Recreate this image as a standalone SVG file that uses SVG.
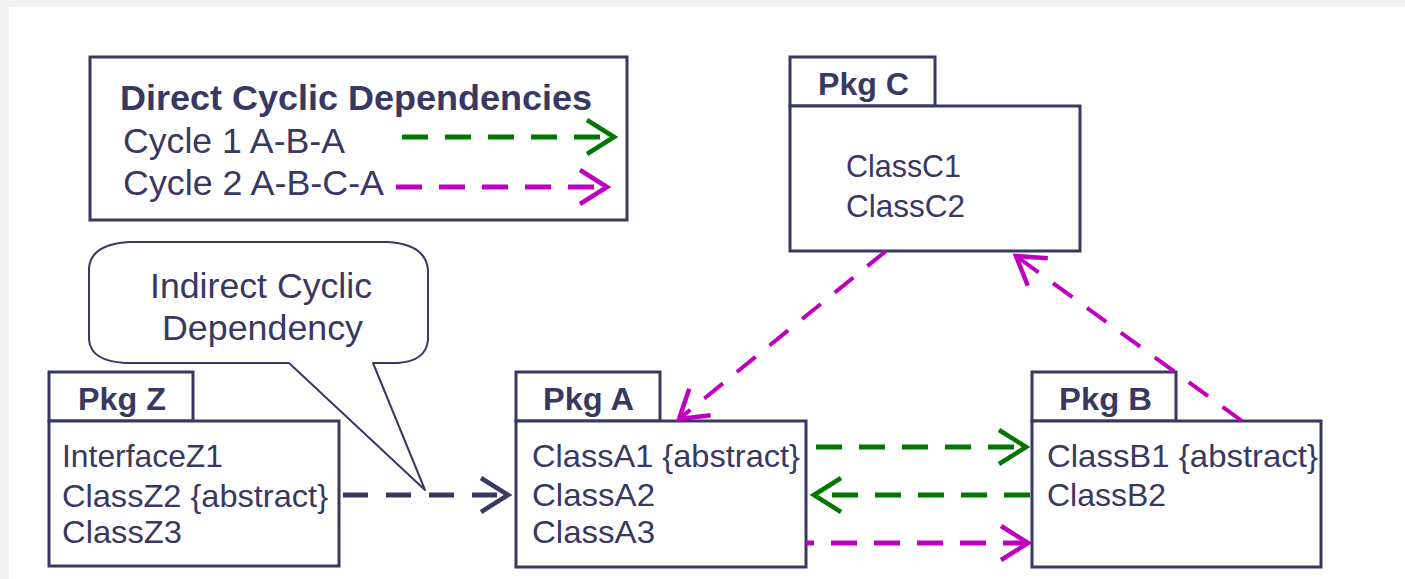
<svg xmlns="http://www.w3.org/2000/svg" width="1405" height="579" viewBox="0 0 1405 579">
<style>
.bg{fill:#f2f2f2}
.box{fill:#fff;stroke:#383862;stroke-width:3}
.t{font-family:"Liberation Sans",Arial,sans-serif;fill:#383862}
.n{font-size:32px}
.b{font-size:32px;font-weight:bold}
.lg{font-size:35px}
.h{font-size:35px;font-weight:bold}
.dg{fill:none;stroke:#007800;stroke-width:5;stroke-dasharray:26 17}
.dm{fill:none;stroke:#c000c0;stroke-width:5;stroke-dasharray:26 17}
.dmd{fill:none;stroke:#c000c0;stroke-width:4;stroke-dasharray:24 18}
.dn{fill:none;stroke:#383862;stroke-width:5;stroke-dasharray:25 18}
.call{fill:#fff;stroke:#383862;stroke-width:2;stroke-linejoin:round}
</style>
<defs>
<marker id="ag" viewBox="-32 -22 36 44" refX="0" refY="0" markerWidth="36" markerHeight="44" markerUnits="userSpaceOnUse" orient="auto"><path d="M-27,-17 L0,0 L-27,17" fill="none" stroke="#007800" stroke-width="4.5"/></marker>
<marker id="am" viewBox="-32 -22 36 44" refX="0" refY="0" markerWidth="36" markerHeight="44" markerUnits="userSpaceOnUse" orient="auto"><path d="M-27,-17 L0,0 L-27,17" fill="none" stroke="#c000c0" stroke-width="4.5"/></marker>
<marker id="an" viewBox="-32 -22 36 44" refX="0" refY="0" markerWidth="36" markerHeight="44" markerUnits="userSpaceOnUse" orient="auto"><path d="M-27,-17 L0,0 L-27,17" fill="none" stroke="#383862" stroke-width="4.5"/></marker>
</defs>
<rect class="bg" x="0" y="0" width="1405" height="579"/>
<rect x="9" y="7" width="1396" height="572" fill="#fff"/>

<g id="legend">
<rect class="box" x="90" y="57" width="537" height="163"/>
<text class="t h" x="120" y="110" textLength="472" lengthAdjust="spacingAndGlyphs">Direct Cyclic Dependencies</text>
<text class="t lg" x="123" y="153" textLength="222" lengthAdjust="spacingAndGlyphs">Cycle 1 A-B-A</text>
<text class="t lg" x="123" y="195" textLength="261" lengthAdjust="spacingAndGlyphs">Cycle 2 A-B-C-A</text>
<path class="dg" d="M402,137 L614,137" marker-end="url(#ag)"/>
<path class="dm" d="M396,187 L607,187" marker-end="url(#am)"/>
</g>

<g id="pkgC">
<rect class="box" x="790" y="57" width="145" height="49"/>
<rect class="box" x="790" y="106" width="290" height="145"/>
<text class="t b" x="818" y="95" textLength="91" lengthAdjust="spacingAndGlyphs">Pkg C</text>
<text class="t n" x="846" y="177" textLength="115" lengthAdjust="spacingAndGlyphs">ClassC1</text>
<text class="t n" x="846" y="217" textLength="119" lengthAdjust="spacingAndGlyphs">ClassC2</text>
</g>

<g id="pkgZ">
<rect class="box" x="49" y="372" width="144" height="49"/>
<rect class="box" x="49" y="421" width="290" height="145"/>
<text class="t b" x="78" y="410" textLength="88" lengthAdjust="spacingAndGlyphs">Pkg Z</text>
<text class="t n" x="62" y="467" textLength="161" lengthAdjust="spacingAndGlyphs">InterfaceZ1</text>
<text class="t n" x="62" y="507" textLength="266" lengthAdjust="spacingAndGlyphs">ClassZ2 {abstract}</text>
<text class="t n" x="62" y="543" textLength="120" lengthAdjust="spacingAndGlyphs">ClassZ3</text>
</g>

<g id="pkgA">
<rect class="box" x="516" y="372" width="144" height="49"/>
<rect class="box" x="516" y="421" width="290" height="146"/>
<text class="t b" x="543" y="410" textLength="91" lengthAdjust="spacingAndGlyphs">Pkg A</text>
<text class="t n" x="532" y="467" textLength="268" lengthAdjust="spacingAndGlyphs">ClassA1 {abstract}</text>
<text class="t n" x="532" y="506" textLength="123" lengthAdjust="spacingAndGlyphs">ClassA2</text>
<text class="t n" x="532" y="543" textLength="123" lengthAdjust="spacingAndGlyphs">ClassA3</text>
</g>

<g id="pkgB">
<rect class="box" x="1032" y="372" width="144" height="49"/>
<rect class="box" x="1032" y="421" width="289" height="146"/>
<text class="t b" x="1059" y="410" textLength="93" lengthAdjust="spacingAndGlyphs">Pkg B</text>
<text class="t n" x="1047" y="467" textLength="271" lengthAdjust="spacingAndGlyphs">ClassB1 {abstract}</text>
<text class="t n" x="1047" y="506" textLength="119" lengthAdjust="spacingAndGlyphs">ClassB2</text>
</g>

<g id="callout">
<path class="call" d="M130,242 L387,242 Q426,244 428,270 L428,340 Q426,361 398,363 L373,363 L425,490 L289,363 L125,363 Q91,361 89,340 L89,268 Q91,244 130,242 Z"/>
<text class="t lg" x="150" y="298" textLength="222" lengthAdjust="spacingAndGlyphs">Indirect Cyclic</text>
<text class="t lg" x="162" y="340" textLength="201" lengthAdjust="spacingAndGlyphs">Dependency</text>
</g>

<g id="connectors">
<path class="dn" d="M343,495 L508,495" marker-end="url(#an)"/>
<path class="dg" d="M816,447 L1026,447" marker-end="url(#ag)"/>
<path class="dg" d="M1030,495 L814,495" marker-end="url(#ag)"/>
<path class="dm" d="M806,543 L1028,543" stroke-dashoffset="18" marker-end="url(#am)"/>
<path class="dmd" d="M886,251 L679,419" marker-end="url(#am)"/>
<path class="dmd" d="M1242,421 L1016,256" marker-end="url(#am)"/>
</g>
</svg>
